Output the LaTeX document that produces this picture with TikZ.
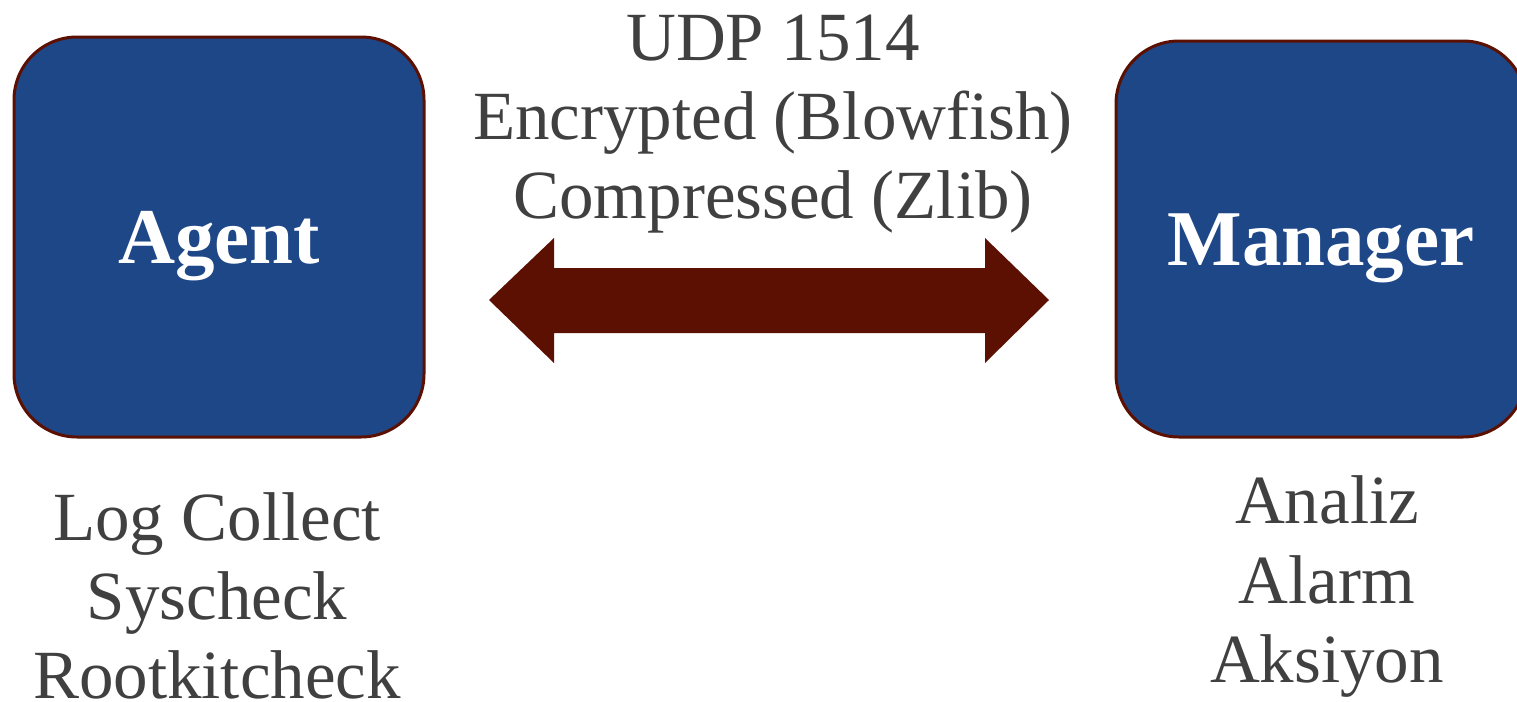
\documentclass[tikz,border=0pt]{standalone}
\usepackage{fontspec}
\setmainfont{Liberation Serif}
\definecolor{boxblue}{RGB}{30,71,136}
\definecolor{darkred}{RGB}{92,16,2}
\definecolor{txtgray}{RGB}{64,64,64}
\begin{document}
\begin{tikzpicture}[x=0.5pt,y=-0.5pt,
  box/.style={draw=darkred, line width=1.5pt, fill=boxblue, rounded corners=31.5pt,
    minimum width=205pt, inner sep=0pt, text=white,
    font=\fontsize{39.5}{45}\selectfont\bfseries, text height=26pt, text depth=0pt},
  lbl/.style={text=txtgray, font=\fontsize{34.5}{40}\selectfont, anchor=base, inner sep=0pt},
  bigarrow/.style={fill=darkred}]
\clip (0,0) rectangle (1517,702);
\fill[white] (0,0) rectangle (1517,702);
% boxes
\node[box, minimum height=200pt] (agent) at (219,237) {Agent};
\node[box, minimum height=198pt] (manager) at (1321,239) {Manager};
% double arrow
\coordinate (ltip) at (489,300);
\coordinate (rtip) at (1049,300);
\fill[bigarrow] (ltip) -- (554,238) -- (554,268) -- (985,268) -- (985,238) -- (rtip)
  -- (985,363) -- (985,333) -- (554,333) -- (554,363) -- cycle;
% top labels
\node[lbl] (t1) at (773,60) {UDP 1514};
\node[lbl] (t2) at (773,139) {Encrypted (Blowfish)};
\node[lbl] (t3) at (773,218) {Compressed (Zlib)};
% agent labels
\node[lbl] (a1) at (217,540) {Log Collect};
\node[lbl] (a2) at (217,619) {Syscheck};
\node[lbl] (a3) at (217,698) {Rootkitcheck};
% manager labels
\node[lbl] (m1) at (1327,523) {Analiz};
\node[lbl] (m2) at (1327,603) {Alarm};
\node[lbl] (m3) at (1327,682) {Aksiyon};
\end{tikzpicture}
\end{document}
